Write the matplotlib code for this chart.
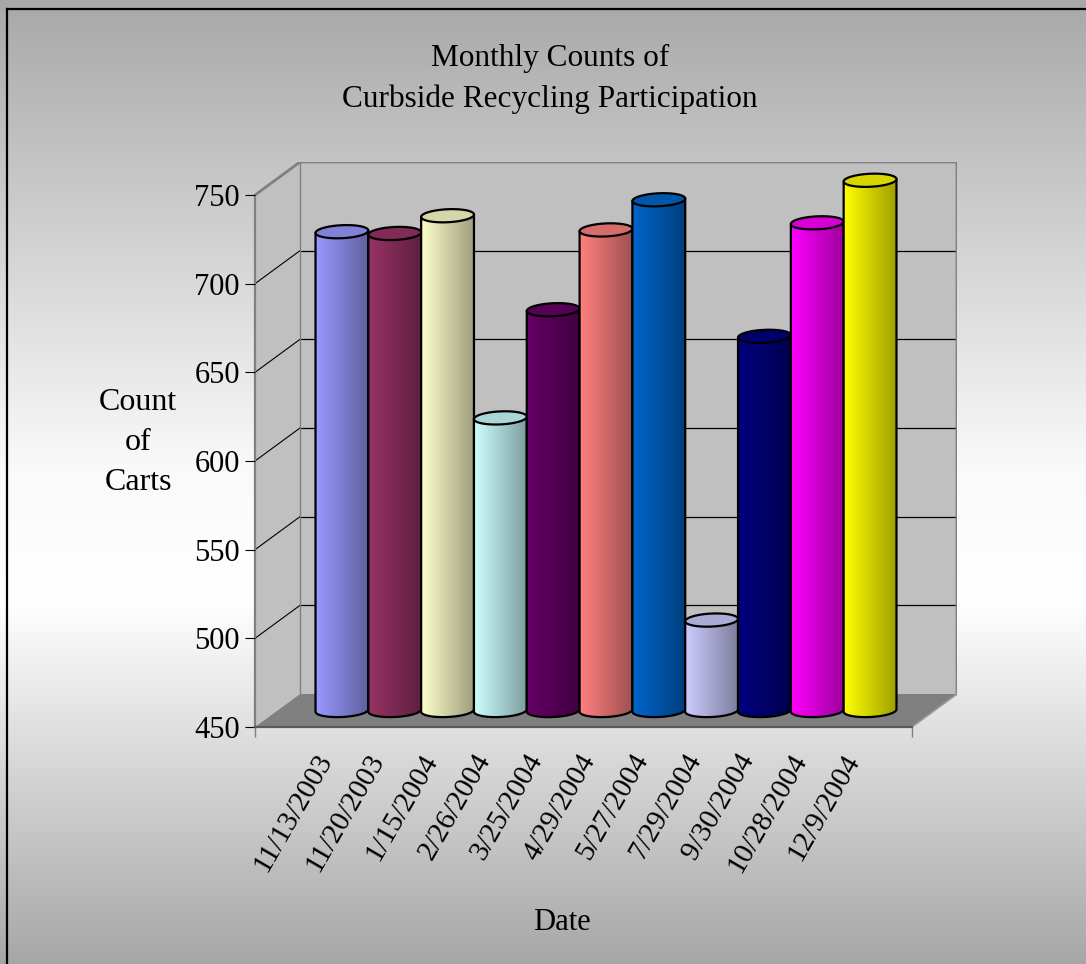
import numpy as np
import matplotlib
matplotlib.use("Agg")
import matplotlib.pyplot as plt
import matplotlib.transforms as mtransforms
from matplotlib.path import Path
from matplotlib.patches import PathPatch, Polygon
from matplotlib.lines import Line2D
from matplotlib.colors import to_rgb

# ---- data -------------------------------------------------------------
dates = ["11/13/2003", "11/20/2003", "1/15/2004", "2/26/2004", "3/25/2004",
         "4/29/2004", "5/27/2004", "7/29/2004", "9/30/2004", "10/28/2004",
         "12/9/2004"]
counts = [720, 719, 729, 615, 676, 721, 738, 501, 661, 725, 749]
bar_colors = ["#9999FF", "#993366", "#FFFFCC", "#CCFFFF", "#660066", "#FF8080",
              "#0066CC", "#CCCCFF", "#000080", "#FF00FF", "#FFFF00"]
y_ticks = [450, 500, 550, 600, 650, 700, 750]
y_min, y_max = 450, 750

title = "Monthly Counts of\nCurbside Recycling Participation"
y_label = "Count\nof\nCarts"
x_label = "Date"

plt.rcParams['font.family'] = ['Liberation Serif', 'DejaVu Serif']

W, H, DPI = 1086, 964, 100
fig = plt.figure(figsize=(W / DPI, H / DPI), dpi=DPI)

# ---- background: vertical grey -> white -> grey wash ------------------
bg = fig.add_axes([0, 0, 1, 1], zorder=0)
rows = np.arange(H)
shade = np.interp(rows, [0, 470, 600, H], [168, 250, 255, 166]) / 255.0
bg_img = np.repeat(shade[:, None, None], 3, axis=2)
bg.imshow(bg_img, aspect='auto', extent=(0, 1, 0, 1), interpolation='nearest')
bg.set_axis_off()

# frame lines (left and top)
fig.add_artist(Line2D([7 / W, 7 / W], [0, 1 - 9 / H], color='black', lw=1.6))
fig.add_artist(Line2D([7 / W, 1], [1 - 9 / H, 1 - 9 / H], color='black', lw=1.6))

# ---- 3-D box geometry ---------------------------------------------------
n = len(counts)
x_lo, x_hi = -1.22, n - 1 + 1.22
FRONT_L, FRONT_R, FRONT_B, FRONT_T = 255, 912, 727, 195   # front plane, px
DEPTH_PX = (45, 33)                                       # back-plane shift, px
px_x = (FRONT_R - FRONT_L) / (x_hi - x_lo)
px_y = (FRONT_B - FRONT_T) / (y_max - y_min)
DX, DY = DEPTH_PX[0] / px_x, DEPTH_PX[1] / px_y
MX, MY = DX / 2, DY / 2            # cylinders stand in the middle of the depth
cap_h = 6.5 / px_y                 # half height of the elliptical caps
tilt = 1.2 / px_y

ax_l = FRONT_L / W
ax_b = (H - FRONT_B) / H
ax_w = (FRONT_R + DEPTH_PX[0] - FRONT_L) / W
ax_h = (FRONT_B - (FRONT_T - DEPTH_PX[1])) / H
ax = fig.add_axes([ax_l, ax_b, ax_w, ax_h], zorder=1)
ax.patch.set_visible(False)

wall = '#C0C0C0'
edge = '#808080'

# side wall, back wall, floor
ax.add_patch(Polygon([(x_lo, y_min), (x_lo, y_max), (x_lo + DX, y_max + DY),
                      (x_lo + DX, y_min + DY)], closed=True, fc=wall, ec='none',
                     zorder=1))
ax.add_patch(Polygon([(x_lo + DX, y_min + DY), (x_hi + DX, y_min + DY),
                      (x_hi + DX, y_max + DY), (x_lo + DX, y_max + DY)],
                     closed=True, fc=wall, ec='none', zorder=1))
ax.add_patch(Polygon([(x_lo, y_min), (x_hi, y_min), (x_hi + DX, y_min + DY),
                      (x_lo + DX, y_min + DY)], closed=True, fc='#808080',
                     ec='none', zorder=1.5))

# gridlines on back and side walls
for v in y_ticks[1:-1]:
    ax.plot([x_lo + DX, x_hi + DX], [v + DY, v + DY], color='black', lw=0.9,
            zorder=1.2, solid_capstyle='butt')
    ax.plot([x_lo, x_lo + DX], [v, v + DY], color='black', lw=0.8, zorder=1.2)

# wall edges
ax.plot([x_lo, x_lo + DX, x_hi + DX, x_hi + DX],
        [y_max, y_max + DY, y_max + DY, y_min + DY], color=edge, lw=2.0,
        zorder=1.3, solid_joinstyle='miter')
ax.plot([x_lo + DX, x_lo + DX], [y_min + DY, y_max + DY], color=edge, lw=1.0,
        zorder=1.3)
ax.plot([x_hi, x_hi + DX], [y_min, y_min + DY], color='#9a9a9a', lw=1.2,
        zorder=1.6)

# ---- cylinders -------------------------------------------------------------
grad_t = np.linspace(0, 1, 96)
shade_f = 1.0 - 0.38 * grad_t
for i, (v, col) in enumerate(zip(counts, bar_colors)):
    rgb = np.array(to_rgb(col))
    c = i + MX
    base = y_min + MY
    top = v + MY
    t = np.linspace(np.pi, 2 * np.pi, 60)
    arc = np.column_stack([c + 0.5 * np.cos(t),
                           base + cap_h * np.sin(t) + tilt * np.cos(t)])
    body = np.vstack([[c - 0.5, top - tilt], arc, [c + 0.5, top + tilt],
                      [c - 0.5, top - tilt]])
    body_path = Path(body, closed=True)
    z = 3 + i * 0.01
    clip = PathPatch(body_path, transform=ax.transData, fc='none', ec='none')
    grad = (rgb[None, None, :] * shade_f[None, :, None]).clip(0, 1)
    im = ax.imshow(grad, extent=(c - 0.5, c + 0.5, base - cap_h - tilt,
                                 top + tilt), aspect='auto',
                   interpolation='bilinear', zorder=z)
    im.set_clip_path(clip)
    ax.add_patch(PathPatch(body_path, fc='none', ec='black', lw=1.6,
                           joinstyle='round', zorder=z + 0.001))
    tt = np.linspace(0, 2 * np.pi, 120)
    cap = np.column_stack([c + 0.5 * np.cos(tt),
                           top + cap_h * np.sin(tt) + tilt * np.cos(tt)])
    ax.add_patch(Polygon(cap, closed=True, fc=tuple(rgb * 0.84), ec='black',
                         lw=1.6, zorder=z + 0.002))

ax.set_xlim(x_lo, x_hi + DX)
ax.set_ylim(y_min, y_max + DY)

# ---- axes, ticks and labels -----------------------------------------------
for s in ('top', 'right'):
    ax.spines[s].set_visible(False)
ax.spines['left'].set_bounds(y_min, y_max)
ax.spines['left'].set_color(edge)
ax.spines['left'].set_linewidth(1.6)
ax.spines['left'].set_zorder(1.4)
ax.spines['bottom'].set_bounds(x_lo, x_hi)
ax.spines['bottom'].set_color('#5a5a5a')
ax.spines['bottom'].set_linewidth(1.6)
ax.spines['bottom'].set_zorder(1.7)

ax.set_yticks(y_ticks)
ax.set_yticklabels([str(v) for v in y_ticks])
ax.tick_params(axis='y', direction='out', length=7.2, width=0.8,
               color='black', pad=3.6, labelsize=22)

ax.set_xticks(range(n))
ax.set_xticklabels(dates, rotation=60, ha='right', va='top',
                   rotation_mode='anchor', fontsize=21)
ax.tick_params(axis='x', which='major', length=0, pad=16)
ax.set_xticks([x_lo, x_hi], minor=True)
ax.tick_params(axis='x', which='minor', length=7.2, width=1.0, color=edge)
shift = mtransforms.ScaledTranslation(-5 / DPI, 0, fig.dpi_scale_trans)
for lbl in ax.get_xticklabels():
    lbl.set_transform(lbl.get_transform() + shift)

fig.text(550 / W, 1 - 79 / H, title, ha='center', va='center', fontsize=22.5,
         linespacing=1.52)
fig.text(138 / W, 1 - 443 / H, y_label, ha='center', va='center',
         fontsize=23, linespacing=1.5)
fig.text(562 / W, 1 - 923 / H, x_label, ha='center', va='center', fontsize=22)

fig.savefig("out.png", dpi=DPI)
